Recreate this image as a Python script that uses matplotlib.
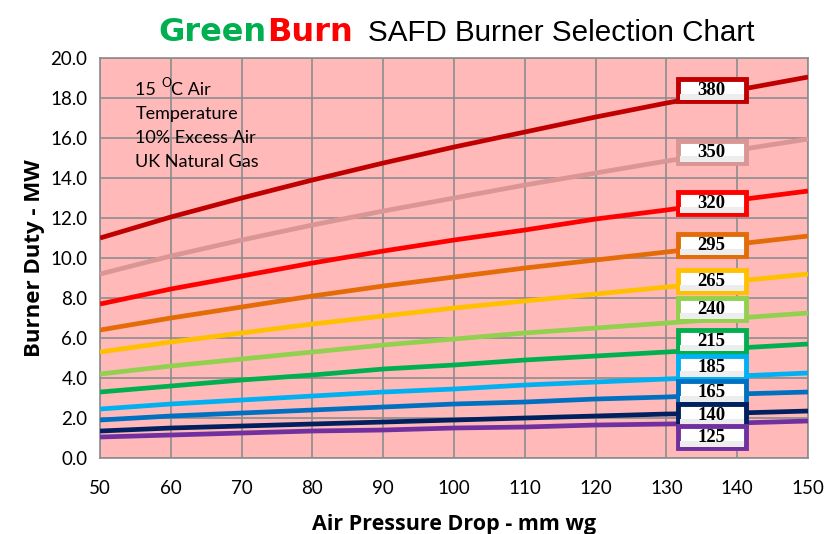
import matplotlib.pyplot as plt
from matplotlib.patches import Rectangle

# air pressure drop (mm wg)
dp = [50, 60, 70, 80, 90, 100, 110, 120, 130, 140, 150]

# burner duty (MW) for each burner size
b380 = [11.0, 12.05, 13.0, 13.9, 14.75, 15.55, 16.3, 17.05, 17.75, 18.4, 19.05]
b350 = [9.2, 10.1, 10.9, 11.65, 12.35, 13.0, 13.65, 14.25, 14.85, 15.4, 15.95]
b320 = [7.7, 8.45, 9.1, 9.75, 10.35, 10.9, 11.4, 11.95, 12.4, 12.9, 13.35]
b295 = [6.4, 7.0, 7.55, 8.1, 8.6, 9.05, 9.5, 9.9, 10.3, 10.7, 11.1]
b265 = [5.3, 5.8, 6.25, 6.7, 7.1, 7.5, 7.85, 8.2, 8.55, 8.85, 9.2]
b240 = [4.2, 4.6, 4.95, 5.3, 5.65, 5.95, 6.25, 6.5, 6.75, 7.0, 7.25]
b215 = [3.3, 3.6, 3.9, 4.15, 4.45, 4.65, 4.9, 5.1, 5.3, 5.5, 5.7]
b185 = [2.45, 2.7, 2.9, 3.1, 3.3, 3.45, 3.65, 3.8, 3.95, 4.1, 4.25]
b165 = [1.9, 2.1, 2.25, 2.4, 2.55, 2.7, 2.8, 2.95, 3.05, 3.2, 3.3]
b140 = [1.35, 1.5, 1.6, 1.7, 1.8, 1.9, 2.0, 2.1, 2.2, 2.25, 2.35]
b125 = [1.05, 1.15, 1.25, 1.35, 1.4, 1.5, 1.55, 1.65, 1.7, 1.75, 1.85]

names = ['380', '350', '320', '295', '265', '240', '215', '185', '165', '140', '125']
series = [b380, b350, b320, b295, b265, b240, b215, b185, b165, b140, b125]
colors = ['#C00000', '#D99694', '#FF0000', '#E36C09', '#FFC000', '#92D050',
          '#00B050', '#00B0F0', '#0070C0', '#002060', '#7030A0']
# label box centre (y, MW)
label_y = [18.4, 15.3, 12.75, 10.65, 8.85, 7.45, 5.85, 4.55, 3.3, 2.15, 1.05]

notes = ['Temperature', '10% Excess Air', 'UK Natural Gas']

fig = plt.figure(figsize=(8.3, 5.34), dpi=100)
ax = fig.add_axes([0.1205, 0.1423, 0.853, 0.749])
ax.set_facecolor('#FFB9B9')

for s, c in zip(series, colors):
    ax.plot(dp, s, color=c, linewidth=3.4, solid_capstyle='butt', zorder=3)

# label boxes
for n, c, ly in zip(names, colors, label_y):
    ax.add_patch(Rectangle((131.6, ly - 0.55), 9.6, 1.1, facecolor='white',
                           edgecolor=c, linewidth=3.5, zorder=5))
    ax.add_patch(Rectangle((131.9, ly - 0.5), 9.0, 0.3, facecolor='#EDEDED',
                           edgecolor='none', zorder=5))
    ax.text(136.4, ly - 0.03, n, ha='center', va='center', fontsize=13.5,
            fontweight='bold', family='Liberation Serif', zorder=6)

ax.set_xlim(50, 150)
ax.set_ylim(0, 20)
ax.set_xticks(range(50, 151, 10))
ax.set_yticks(range(0, 21, 2))
ax.set_yticklabels(['%.1f' % v for v in range(0, 21, 2)])
ax.grid(True, color='#8C8C8C', linewidth=1.2)
ax.set_axisbelow(True)
for sp in ax.spines.values():
    sp.set_color('#8C8C8C')
    sp.set_linewidth(1.2)
ax.tick_params(axis='x', length=0, labelsize=13.5, pad=16)
ax.tick_params(axis='y', length=0, labelsize=13.5, pad=9)
for lab in ax.get_xticklabels() + ax.get_yticklabels():
    lab.set_family('Lato')

ax.set_xlabel('Air Pressure Drop - mm wg', fontsize=15.5, fontweight='bold',
              family='Open Sans', labelpad=12)
ax.set_ylabel('Burner Duty - MW', fontsize=16, fontweight='bold',
              family='Open Sans', labelpad=4)

fig.canvas.draw()
r = fig.canvas.get_renderer()
inv = fig.transFigure.inverted()


def after(t):
    # x (figure fraction) of the right edge of a text
    return inv.transform((t.get_window_extent(r).x1, 0))[0]


# note text
nx = 0.1205 + 0.853 * 0.05
y0 = 0.142 + 0.749 * 0.9075
n1 = fig.text(nx, y0, '15 ', fontsize=13, family='Lato')
n2 = fig.text(after(n1), y0 + 0.015, 'O', fontsize=9, family='Lato')
fig.text(after(n2), y0, 'C Air', fontsize=13, family='Lato')
for i, line in enumerate(notes):
    fig.text(nx, y0 - 0.045 * (i + 1), line, fontsize=13, family='Lato')

# title
ty = 0.924
g = fig.text(0.191, ty, 'Green', color='#00B050', fontsize=23, fontweight='bold',
             family='DejaVu Sans')
b = fig.text(after(g), ty, 'Burn', color='#FF0000', fontsize=23, fontweight='bold',
             family='DejaVu Sans')
fig.text(0.443, ty, 'SAFD Burner Selection Chart', fontsize=21.3,
         family='Liberation Sans')

fig.savefig('out.png', dpi=100)
